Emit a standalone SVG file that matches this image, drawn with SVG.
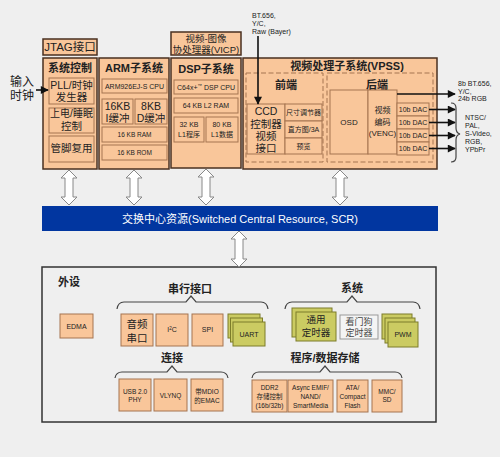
<svg xmlns="http://www.w3.org/2000/svg" width="500" height="457" viewBox="0 0 500 457">
<defs>
<style>
text{font-family:"Liberation Sans","Noto Sans CJK SC",sans-serif;fill:#222;text-anchor:middle}
.ob{fill:#f9c69a;stroke:#4a3020;stroke-width:1.5}
.ib{fill:#f9c69a;stroke:#a57550;stroke-width:1}
.db{fill:none;stroke:#a57550;stroke-width:1;stroke-dasharray:5 2.5}
.gb{fill:#cbcb62;stroke:#7d7d2a;stroke-width:1}
.wb{fill:#f4f4f4;stroke:#999;stroke-width:1}
.dar{fill:#fff;stroke:#888;stroke-width:1}
.br{fill:none;stroke:#444;stroke-width:1.2}
.ln{stroke:#111;stroke-width:1.6;fill:none}
.t{font-size:11px;font-weight:bold}
.m{font-size:10.5px}
.s{font-size:7px}
.xs{font-size:6.5px}
</style>
<marker id="ah" viewBox="0 0 10 10" refX="9" refY="5" markerWidth="5.5" markerHeight="5" orient="auto" markerUnits="strokeWidth">
<path d="M0,0 L10,5 L0,10 z" fill="#111"/>
</marker>
</defs>
<rect width="500" height="457" fill="#efefef"/>

<g id="clock-in">
<text x="22" y="86" style="font-size:12px">输入</text>
<text x="22" y="100" style="font-size:12px">时钟</text>
</g>

<g id="jtag">
<rect class="ob" x="43" y="39" width="54" height="16"/>
<text x="70" y="51" style="font-size:11.5px">JTAG接口</text>
</g>

<g id="sysctrl">
<rect class="ob" x="43" y="58" width="54" height="111"/>
<text class="t" x="70" y="72">系统控制</text>
<rect class="ib" x="49" y="78" width="45" height="26"/>
<text class="m" x="71.5" y="89">PLL/时钟</text>
<text class="m" x="71.5" y="101">发生器</text>
<rect class="ib" x="49" y="108" width="45" height="25"/>
<text x="71.5" y="117" style="font-size:10px">上电/睡眠</text>
<text class="m" x="71.5" y="130">控制</text>
<rect class="ib" x="49" y="136" width="45" height="26"/>
<text class="m" x="71.5" y="152">管脚复用</text>
</g>

<g id="arm">
<rect class="ob" x="99" y="58" width="70" height="111"/>
<text class="t" x="134" y="72">ARM子系统</text>
<rect class="ib" x="102" y="79" width="65" height="14"/>
<text class="s" x="134.5" y="89">ARM926EJ-S CPU</text>
<rect class="ib" x="102" y="99" width="31" height="25"/>
<text class="m" x="117.5" y="110">16KB</text>
<text class="m" x="117.5" y="122">I缓冲</text>
<rect class="ib" x="135" y="99" width="32" height="25"/>
<text class="m" x="151" y="110">8KB</text>
<text class="m" x="151" y="122">D缓冲</text>
<rect class="ib" x="102" y="127" width="65" height="15"/>
<text class="xs" x="134.5" y="137">16 KB RAM</text>
<rect class="ib" x="102" y="145" width="65" height="15"/>
<text class="xs" x="134.5" y="155">16 KB ROM</text>
</g>

<g id="vicp">
<rect class="ob" x="171" y="32" width="70" height="23"/>
<text x="206" y="41.5" style="font-size:9.5px">视频-图像</text>
<text x="206" y="53" style="font-size:9.5px">协处理器(VICP)</text>
</g>

<g id="dsp">
<rect class="ob" x="171" y="58" width="70" height="110"/>
<text class="t" x="206" y="73">DSP子系统</text>
<rect class="ib" x="174" y="80" width="64" height="14"/>
<text class="s" x="206" y="90">C64x+<tspan dy="-3" style="font-size:4.5px">™</tspan><tspan dy="3"> DSP CPU</tspan></text>
<rect class="ib" x="174" y="98" width="64" height="15"/>
<text class="s" x="206" y="108">64 KB L2 RAM</text>
<rect class="ib" x="174" y="117" width="30" height="25"/>
<text class="s" x="189" y="127">32 KB</text>
<text class="s" x="189" y="137">L1程序</text>
<rect class="ib" x="206" y="117" width="32" height="25"/>
<text class="s" x="222" y="127">80 KB</text>
<text class="s" x="222" y="137">L1数据</text>
</g>

<g id="vpss">
<rect class="ob" x="243" y="58" width="194" height="111"/>
<text class="t" x="347" y="70">视频处理子系统(VPSS)</text>
<rect class="db" x="246" y="73" width="77" height="89"/>
<text class="t" x="286" y="89">前端</text>
<rect class="ib" x="247" y="104" width="38" height="50"/>
<text class="m" x="266" y="115">CCD</text>
<text class="m" x="266" y="127.5">控制器</text>
<text class="m" x="266" y="140">视频</text>
<text class="m" x="266" y="152">接口</text>
<rect class="ib" x="285" y="104" width="37" height="17"/>
<text class="s" x="303.5" y="115">尺寸调节器</text>
<rect class="ib" x="285" y="121" width="37" height="17"/>
<text class="s" x="303.5" y="132">直方图/3A</text>
<rect class="ib" x="285" y="138" width="37" height="16"/>
<text class="s" x="303.5" y="149">预览</text>
<rect class="db" x="327" y="73" width="106" height="89"/>
<text class="t" x="377" y="89">后端</text>
<rect class="ib" x="330" y="90" width="38" height="64"/>
<text x="349" y="125" style="font-size:8px">OSD</text>
<rect class="ib" x="368" y="90" width="29" height="64"/>
<text x="382.5" y="113" style="font-size:8px">视频</text>
<text x="382.5" y="125" style="font-size:8px">编码</text>
<text x="382.5" y="136" style="font-size:8px">(VENC)</text>
<rect class="ib" x="397" y="103" width="32" height="13"/>
<text class="s" x="413" y="112">10b DAC</text>
<rect class="ib" x="397" y="116" width="32" height="13"/>
<text class="s" x="413" y="125">10b DAC</text>
<rect class="ib" x="397" y="129" width="32" height="13"/>
<text class="s" x="413" y="138">10b DAC</text>
<rect class="ib" x="397" y="142" width="32" height="13"/>
<text class="s" x="413" y="151">10b DAC</text>
</g>

<g id="vpss-in">
<text class="s" x="252" y="18" style="text-anchor:start">BT.656,</text>
<text class="s" x="252" y="26" style="text-anchor:start">Y/C,</text>
<text class="s" x="252" y="34" style="text-anchor:start">Raw (Bayer)</text>
</g>

<g id="vpss-out">
<text class="s" x="458" y="86" style="text-anchor:start">8b BT.656,</text>
<text class="s" x="458" y="93.5" style="text-anchor:start">Y/C,</text>
<text class="s" x="458" y="101" style="text-anchor:start">24b RGB</text>
<text class="s" x="465" y="120" style="text-anchor:start">NTSC/</text>
<text class="s" x="465" y="128" style="text-anchor:start">PAL,</text>
<text class="s" x="465" y="136" style="text-anchor:start">S-Video,</text>
<text class="s" x="465" y="144" style="text-anchor:start">RGB,</text>
<text class="s" x="465" y="151.5" style="text-anchor:start">YPbPr</text>
</g>

<g id="scr">
<rect x="42" y="206" width="396" height="25" fill="#0136a0"/>
<text x="240" y="223" style="font-size:11px;fill:#fff">交换中心资源(Switched Central Resource, SCR)</text>
</g>

<g id="peripherals">
<rect x="42" y="267" width="394" height="155" fill="#efefef" stroke="#333" stroke-width="1.5"/>
<text x="58" y="286" style="font-size:11px;font-weight:bold;text-anchor:start">外设</text>
<text class="t" x="190" y="293">串行接口</text>
<text class="t" x="352" y="292">系统</text>
<text class="t" x="172" y="362">连接</text>
<text class="t" x="325" y="362">程序/数据存储</text>
</g>

<g id="edma"><rect class="ib" x="60" y="314" width="33" height="24"/><text class="s" x="76.5" y="329">EDMA</text></g>
<g id="mcasp"><rect class="ib" x="121" y="314" width="32" height="32"/><text class="m" x="137" y="328">音频</text><text class="m" x="137" y="342">串口</text></g>
<g id="i2c"><rect class="ib" x="156" y="314" width="32" height="32"/><text class="s" x="172" y="332">I<tspan dy="-2.5" style="font-size:4.5px">2</tspan><tspan dy="2.5">C</tspan></text></g>
<g id="spi"><rect class="ib" x="192" y="314" width="31" height="32"/><text class="s" x="207.5" y="332">SPI</text></g>
<g id="uart">
<rect class="gb" x="228" y="314" width="32" height="24"/>
<rect class="gb" x="230.5" y="318" width="32" height="24"/>
<rect class="gb" x="233" y="322" width="32" height="24"/>
<text class="s" x="249" y="337">UART</text>
</g>
<g id="timer">
<rect class="gb" x="292" y="308" width="40" height="29"/>
<rect class="gb" x="296" y="312" width="40" height="29"/>
<text x="316" y="323" style="font-size:9.5px">通用</text>
<text x="316" y="336" style="font-size:9.5px">定时器</text>
</g>
<g id="watchdog">
<rect class="wb" x="340" y="315" width="38" height="24"/>
<text x="359" y="324.5" style="font-size:9px;fill:#444">看门狗</text>
<text x="359" y="336" style="font-size:9px;fill:#444">定时器</text>
</g>
<g id="pwm">
<rect class="gb" x="382" y="314" width="30" height="25"/>
<rect class="gb" x="385" y="318" width="30" height="25"/>
<rect class="gb" x="388" y="322" width="30" height="25"/>
<text class="s" x="403" y="337">PWM</text>
</g>
<g id="usb"><rect class="ib" x="119" y="379" width="32" height="32"/><text class="xs" x="135" y="394">USB 2.0</text><text class="xs" x="135" y="402">PHY</text></g>
<g id="vlynq"><rect class="ib" x="154" y="379" width="33" height="32"/><text class="xs" x="170.5" y="398">VLYNQ</text></g>
<g id="emac"><rect class="ib" x="191" y="379" width="32" height="32"/><text class="xs" x="207" y="394">带MDIO</text><text class="xs" x="207" y="403">的EMAC</text></g>
<g id="ddr2"><rect class="ib" x="252" y="380" width="35" height="32"/><text class="xs" x="269.5" y="390">DDR2</text><text class="xs" x="269.5" y="399">存储控制</text><text class="xs" x="269.5" y="408">(16b/32b)</text></g>
<g id="emif"><rect class="ib" x="288" y="380" width="45" height="32"/><text class="xs" x="310.5" y="390">Async EMIF/</text><text class="xs" x="310.5" y="399">NAND/</text><text class="xs" x="310.5" y="408">SmartMedia</text></g>
<g id="ata"><rect class="ib" x="337" y="380" width="31" height="32"/><text class="xs" x="352.5" y="390">ATA/</text><text class="xs" x="352.5" y="399">Compact</text><text class="xs" x="352.5" y="408">Flash</text></g>
<g id="mmc"><rect class="ib" x="372" y="380" width="30" height="32"/><text class="xs" x="387" y="394">MMC/</text><text class="xs" x="387" y="402">SD</text></g>

<g id="connectors">
<line class="ln" x1="36" y1="90" x2="48" y2="90" marker-end="url(#ah)"/>
<line class="ln" x1="258" y1="36" x2="258" y2="104" marker-end="url(#ah)"/>
<line class="ln" x1="397" y1="94" x2="455" y2="94" marker-end="url(#ah)"/>
<line class="ln" x1="429" y1="109.5" x2="455" y2="109.5" marker-end="url(#ah)"/>
<line class="ln" x1="429" y1="122.5" x2="455" y2="122.5" marker-end="url(#ah)"/>
<line class="ln" x1="429" y1="135.5" x2="455" y2="135.5" marker-end="url(#ah)"/>
<line class="ln" x1="429" y1="148.5" x2="455" y2="148.5" marker-end="url(#ah)"/>
<path class="br" d="M451,103 Q456,103 456,108 L456,128 Q456,133 460,134 Q456,135 456,140 L456,157 Q456,162 451,162"/>
<polygon class="dar" points="69,170 77,178 73,178 73,197 77,197 69,205 61,197 65,197 65,178 61,178"/>
<polygon class="dar" points="134,170 142,178 138,178 138,197 142,197 134,205 126,197 130,197 130,178 126,178"/>
<polygon class="dar" points="206,169 214,177 210,177 210,197 214,197 206,205 198,197 202,197 202,177 198,177"/>
<polygon class="dar" points="340,170 348,178 344,178 344,197 348,197 340,205 332,197 336,197 336,178 332,178"/>
<polygon class="dar" points="239,231 247,239 243,239 243,259 247,259 239,267 231,259 235,259 235,239 231,239"/>
<path class="br" d="M117,309 Q118,302 124,302 L186,302 L191,296 L196,302 L261,302 Q267,302 268,309"/>
<path class="br" d="M285,309 Q286,302 292,302 L347,302 L352,296 L357,302 L413,302 Q419,302 420,309"/>
<path class="br" d="M115,378 Q116,372 122,372 L167,372 L172,366 L177,372 L221,372 Q227,372 228,378"/>
<path class="br" d="M252,378 Q253,372 259,372 L320,372 L325,366 L330,372 L395,372 Q401,372 402,378"/>
</g>
</svg>
